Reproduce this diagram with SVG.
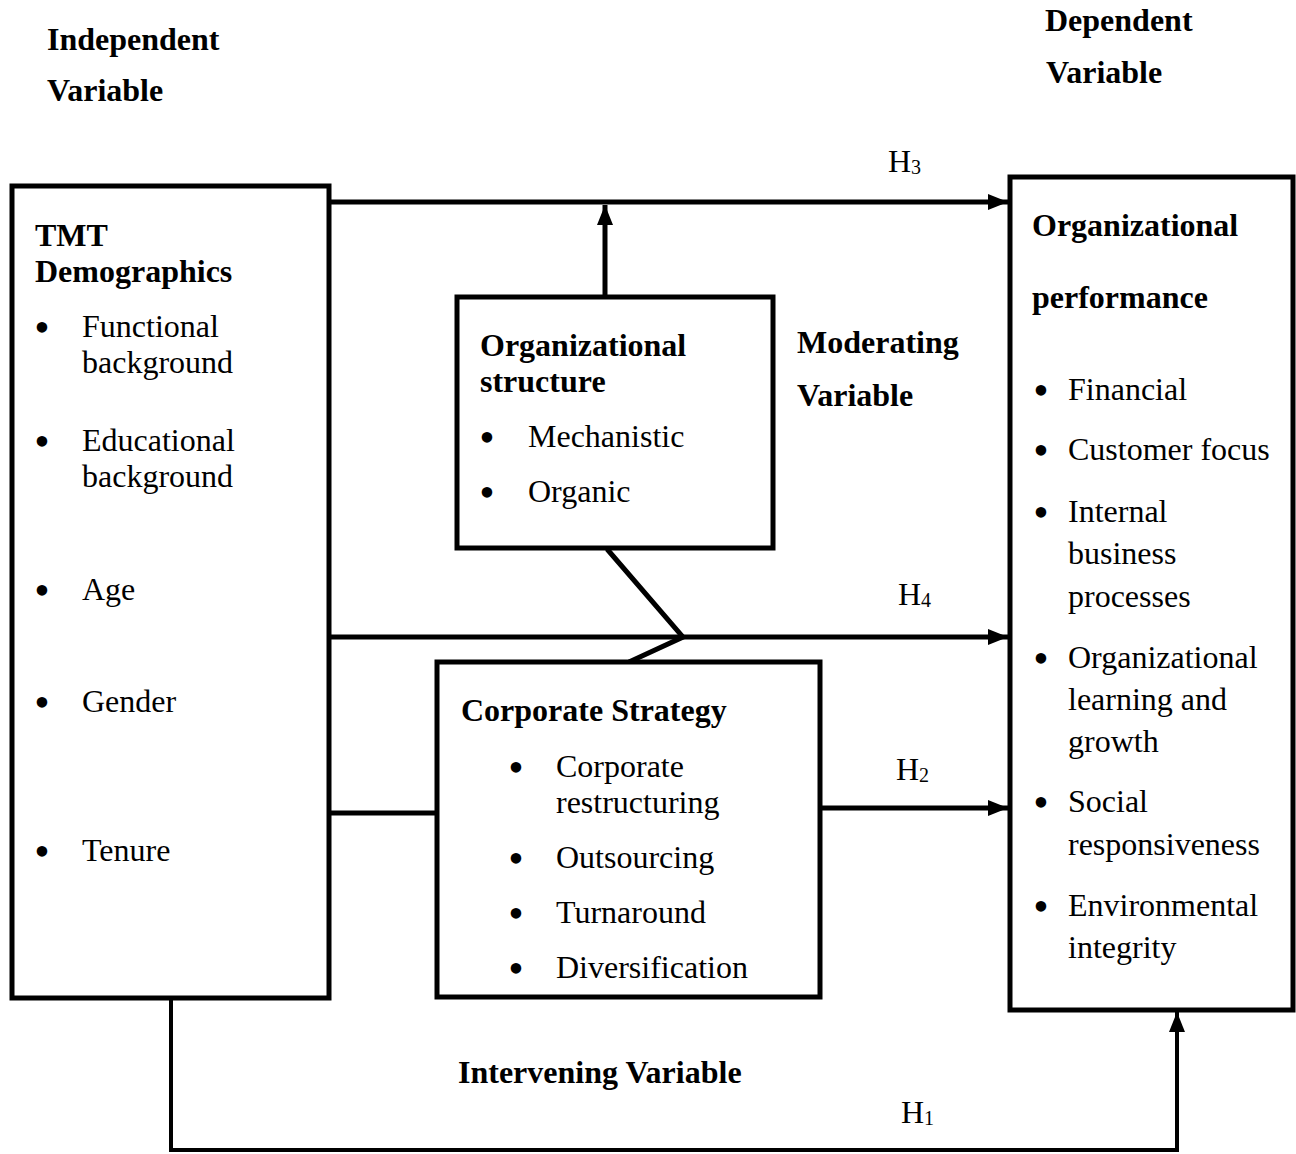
<svg xmlns="http://www.w3.org/2000/svg" width="1296" height="1154" viewBox="0 0 1296 1154">
<style>
text{font-family:"Liberation Serif","Times New Roman",serif;font-size:32px;fill:#000}
.b{font-weight:bold}
.box{fill:#fff;stroke:#000;stroke-width:5}
.ln{fill:none;stroke:#000;stroke-width:5}
.ln4{fill:none;stroke:#000;stroke-width:4}
.bu{text-anchor:middle;font-size:44px}
.h{font-size:32px}
.sub{font-size:20px}
</style>
<defs>
<marker id="ah" markerUnits="userSpaceOnUse" markerWidth="22" markerHeight="18" refX="20" refY="8" orient="auto">
<path d="M0,0 L20,8 L0,16 z" fill="#000"/>
</marker>
</defs>
<g id="labels">
<text class="b" x="47" y="50">Independent</text>
<text class="b" x="47" y="101">Variable</text>
<text class="b" x="1045" y="31">Dependent</text>
<text class="b" x="1046" y="83">Variable</text>
<text class="b" x="797" y="353">Moderating</text>
<text class="b" x="797" y="406">Variable</text>
<text class="b" x="458" y="1083">Intervening Variable</text>
<text class="h" x="888" y="172">H<tspan class="sub" dy="2">3</tspan></text>
<text class="h" x="898" y="605">H<tspan class="sub" dy="2">4</tspan></text>
<text class="h" x="896" y="780">H<tspan class="sub" dy="2">2</tspan></text>
<text class="h" x="901" y="1123">H<tspan class="sub" dy="2">1</tspan></text>
</g>
<g id="connectors">
<line class="ln" x1="329" y1="202" x2="1008" y2="202" marker-end="url(#ah)"/>
<line class="ln" x1="605" y1="297" x2="605" y2="205" marker-end="url(#ah)"/>
<line class="ln" x1="329" y1="637" x2="1008" y2="637" marker-end="url(#ah)"/>
<polyline class="ln" points="607,549 683,637 629,662"/>
<line class="ln" x1="329" y1="813" x2="437" y2="813"/>
<line class="ln" x1="821" y1="808" x2="1008" y2="808" marker-end="url(#ah)"/>
<polyline class="ln4" points="171,998 171,1150 1177,1150 1177,1012" marker-end="url(#ah)"/>
</g>
<g id="tmt">
<rect class="box" x="12" y="186" width="317" height="812"/>
<text class="b" x="35" y="246">TMT</text>
<text class="b" x="35" y="282">Demographics</text>
<text class="bu" x="42" y="342">•</text>
<text x="82" y="337">Functional</text>
<text x="82" y="373">background</text>
<text class="bu" x="42" y="456">•</text>
<text x="82" y="451">Educational</text>
<text x="82" y="487">background</text>
<text class="bu" x="42" y="605">•</text>
<text x="82" y="600">Age</text>
<text class="bu" x="42" y="717">•</text>
<text x="82" y="712">Gender</text>
<text class="bu" x="42" y="866">•</text>
<text x="82" y="861">Tenure</text>
</g>
<g id="org-structure">
<rect class="box" x="457" y="297" width="316" height="251"/>
<text class="b" x="480" y="356">Organizational</text>
<text class="b" x="480" y="392">structure</text>
<text class="bu" x="487" y="452">•</text>
<text x="528" y="447">Mechanistic</text>
<text class="bu" x="487" y="507">•</text>
<text x="528" y="502">Organic</text>
</g>
<g id="corporate-strategy">
<rect class="box" x="437" y="662" width="383" height="335"/>
<text class="b" x="461" y="721">Corporate Strategy</text>
<text class="bu" x="516" y="782">•</text>
<text x="556" y="777">Corporate</text>
<text x="556" y="813">restructuring</text>
<text class="bu" x="516" y="873">•</text>
<text x="556" y="868">Outsourcing</text>
<text class="bu" x="516" y="928">•</text>
<text x="556" y="923">Turnaround</text>
<text class="bu" x="516" y="983">•</text>
<text x="556" y="978">Diversification</text>
</g>
<g id="org-performance">
<rect class="box" x="1010" y="177" width="283" height="833"/>
<text class="b" x="1032" y="236">Organizational</text>
<text class="b" x="1032" y="308">performance</text>
<text class="bu" x="1041" y="405">•</text>
<text x="1068" y="400">Financial</text>
<text class="bu" x="1041" y="465">•</text>
<text x="1068" y="460">Customer focus</text>
<text class="bu" x="1041" y="527">•</text>
<text x="1068" y="522">Internal</text>
<text x="1068" y="564">business</text>
<text x="1068" y="607">processes</text>
<text class="bu" x="1041" y="673">•</text>
<text x="1068" y="668">Organizational</text>
<text x="1068" y="710">learning and</text>
<text x="1068" y="752">growth</text>
<text class="bu" x="1041" y="817">•</text>
<text x="1068" y="812">Social</text>
<text x="1068" y="855">responsiveness</text>
<text class="bu" x="1041" y="921">•</text>
<text x="1068" y="916">Environmental</text>
<text x="1068" y="958">integrity</text>
</g>
</svg>
